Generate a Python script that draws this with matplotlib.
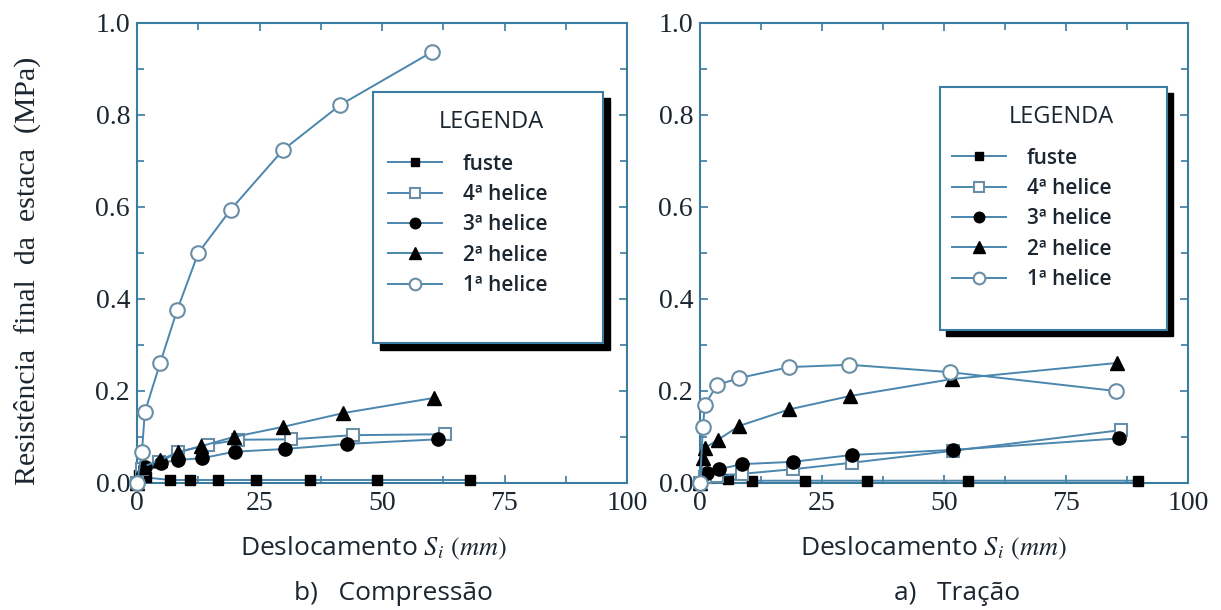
import matplotlib
matplotlib.use("Agg")
import matplotlib.pyplot as plt
from matplotlib.patches import Rectangle
from matplotlib.ticker import MultipleLocator

# Resistência por elemento da estaca (compressão e tração)

# b) Compressão
comp_fuste_x = [0, 0.5, 1.8, 6.8, 10.9, 16.6, 24.2, 35.3, 48.9, 67.9]
comp_fuste_y = [0, 0.018, 0.012, 0.0065, 0.0065, 0.0065, 0.0065, 0.0065, 0.0065, 0.0065]
comp_h4_x = [0, 1.0, 4.5, 8.4, 14.4, 20.7, 31.4, 44.1, 62.8]
comp_h4_y = [0, 0.03, 0.045, 0.067, 0.083, 0.094, 0.095, 0.104, 0.106]
comp_h3_x = [0, 1.6, 4.9, 8.4, 13.3, 19.9, 30.2, 42.9, 61.4]
comp_h3_y = [0, 0.035, 0.044, 0.05, 0.054, 0.068, 0.074, 0.085, 0.095]
comp_h2_x = [0, 1.2, 4.7, 8.4, 13.1, 19.7, 29.8, 42.1, 60.6]
comp_h2_y = [0, 0.035, 0.05, 0.067, 0.08, 0.1, 0.122, 0.152, 0.185]
comp_h1_x = [0, 1.0, 1.6, 4.7, 8.2, 12.5, 19.1, 29.8, 41.5, 60.2]
comp_h1_y = [0, 0.067, 0.154, 0.26, 0.376, 0.5, 0.594, 0.724, 0.822, 0.937]

# a) Tração
trac_fuste_x = [0, 2.0, 5.7, 10.7, 21.5, 34.2, 54.9, 89.8]
trac_fuste_y = [0, 0.012, 0.008, 0.005, 0.005, 0.005, 0.005, 0.005]
trac_h4_x = [0, 1.0, 3.5, 8.7, 19.1, 31.1, 51.8, 86.3]
trac_h4_y = [0, 0.012, 0.015, 0.02, 0.03, 0.044, 0.07, 0.115]
trac_h3_x = [0, 1.4, 3.9, 8.6, 19.0, 31.2, 51.8, 85.9]
trac_h3_y = [0, 0.022, 0.03, 0.041, 0.046, 0.061, 0.072, 0.097]
trac_h2_x = [0, 0.6, 1.0, 3.7, 8.0, 18.3, 30.7, 51.7, 85.5]
trac_h2_y = [0, 0.055, 0.076, 0.094, 0.124, 0.16, 0.189, 0.226, 0.261]
trac_h1_x = [0, 0.6, 1.0, 3.5, 8.0, 18.3, 30.6, 51.2, 85.2]
trac_h1_y = [0, 0.122, 0.17, 0.213, 0.228, 0.252, 0.257, 0.241, 0.2]

labels = ["fuste", "4ª helice", "3ª helice", "2ª helice", "1ª helice"]

line_col = "#4a86ad"
open_edge = "#6a8ea6"
spine_col = "#3b7ca0"
text_col = "#1c2630"

serif = ["Liberation Serif", "DejaVu Serif"]
sans = ["Open Sans", "DejaVu Sans"]

plt.rcParams["mathtext.fontset"] = "stix"


def style_axes(ax):
    ax.set_xlim(0, 100)
    ax.set_ylim(0, 1.0)
    ax.xaxis.set_major_locator(MultipleLocator(25))
    ax.xaxis.set_minor_locator(MultipleLocator(12.5))
    ax.yaxis.set_major_locator(MultipleLocator(0.2))
    ax.yaxis.set_minor_locator(MultipleLocator(0.1))
    ax.tick_params(which="both", direction="in", top=True, right=True,
                   color=spine_col, width=1.2)
    ax.tick_params(which="major", length=6)
    ax.tick_params(which="minor", length=5)
    ax.tick_params(axis="x", pad=6)
    ax.tick_params(axis="y", pad=5)
    for sp in ax.spines.values():
        sp.set_color(spine_col)
        sp.set_linewidth(1.5)
    ax.set_yticks([0, 0.2, 0.4, 0.6, 0.8, 1.0])
    ax.set_yticklabels(["0.0", "0.2", "0.4", "0.6", "0.8", "1.0"])
    for lab in ax.get_xticklabels() + ax.get_yticklabels():
        lab.set_fontfamily(serif)
        lab.set_fontsize(20)
        lab.set_color(text_col)


def draw_series(ax, data):
    styles = [
        dict(marker="s", ms=6.5, mfc="black", mec="black"),
        dict(marker="s", ms=8.5, mfc="white", mec=open_edge, mew=1.5),
        dict(marker="o", ms=9.5, mfc="black", mec="black"),
        dict(marker="^", ms=10.5, mfc="black", mec="black"),
        dict(marker="o", ms=10.5, mfc="white", mec=open_edge, mew=1.5),
    ]
    handles = []
    for (xs, ys), st, lab in zip(data, styles, labels):
        h, = ax.plot(xs, ys, color=line_col, lw=1.4, label=lab, zorder=3,
                     clip_on=False, **st)
        handles.append(h)
    return handles


def draw_legend(ax, handles, box, title_xy, anchor):
    x0, y0, w, h = box
    shadow = Rectangle((x0 + 0.013, y0 - 0.014), w, h, transform=ax.transAxes,
                       facecolor="black", edgecolor="black", zorder=6)
    frame = Rectangle((x0, y0), w, h, transform=ax.transAxes,
                      facecolor="white", edgecolor=spine_col, lw=1.5, zorder=7)
    ax.add_patch(shadow)
    ax.add_patch(frame)
    ax.text(title_xy[0], title_xy[1], "LEGENDA", transform=ax.transAxes,
            ha="center", va="center", fontsize=17, family=sans,
            color=text_col, zorder=8)
    leg = ax.legend(handles=handles, loc="upper left", bbox_to_anchor=anchor,
                    frameon=False,
                    prop={"family": sans, "size": 15, "weight": "semibold"},
                    markerscale=0.8, handlelength=2.6, handletextpad=1.0,
                    labelspacing=0.45, borderpad=0, borderaxespad=0)
    leg.set_zorder(8)
    for t in leg.get_texts():
        t.set_color(text_col)


fig = plt.figure(figsize=(12.21, 6.10), dpi=100)
ax1 = fig.add_axes([137 / 1221, 127 / 610, 490 / 1221, 460 / 610])
ax2 = fig.add_axes([700 / 1221, 127 / 610, 488 / 1221, 460 / 610])

h1 = draw_series(ax1, [(comp_fuste_x, comp_fuste_y), (comp_h4_x, comp_h4_y),
                       (comp_h3_x, comp_h3_y), (comp_h2_x, comp_h2_y),
                       (comp_h1_x, comp_h1_y)])
h2 = draw_series(ax2, [(trac_fuste_x, trac_fuste_y), (trac_h4_x, trac_h4_y),
                       (trac_h3_x, trac_h3_y), (trac_h2_x, trac_h2_y),
                       (trac_h1_x, trac_h1_y)])

style_axes(ax1)
style_axes(ax2)

draw_legend(ax1, h1, (0.482, 0.304, 0.47, 0.546), (0.724, 0.785), (0.512, 0.716))
draw_legend(ax2, h2, (0.492, 0.333, 0.465, 0.528), (0.74, 0.796), (0.516, 0.729))

fig.text(27 / 1221, 1 - 271 / 610, "Resistência  final  da  estaca  (MPa)",
         rotation=90, ha="center", va="center", fontsize=21.5,
         family=serif, color=text_col)

xlab = "Deslocamento $S_i$ $(mm)$"
fig.text(373 / 1221, 1 - 548 / 610, xlab, ha="center", va="center",
         fontsize=19, family=sans, color=text_col)
fig.text(933 / 1221, 1 - 548 / 610, xlab, ha="center", va="center",
         fontsize=19, family=sans, color=text_col)
fig.text(393 / 1221, 1 - 593 / 610, "b)   Compressão", ha="center", va="center",
         fontsize=19, family=sans, color=text_col)
fig.text(957 / 1221, 1 - 593 / 610, "a)   Tração", ha="center", va="center",
         fontsize=19, family=sans, color=text_col)

fig.savefig("out.png", dpi=100)
